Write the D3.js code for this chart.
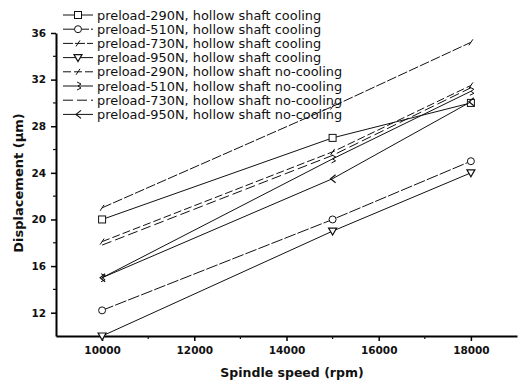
<!DOCTYPE html>
<html>
<head>
<meta charset="utf-8">
<script src="https://cdn.jsdelivr.net/npm/d3@7"></script>
<style>
  body { margin: 0; background: #fff; }
  text { font-family: "DejaVu Sans", "Liberation Sans", sans-serif; fill: #111; }
</style>
</head>
<body>
<div id="chart"></div>
<script>
// spindle speeds (rpm)
const speeds = [10000, 15000, 18000];

// displacement (um) per series
const seriesNames = [
  "preload-290N, hollow shaft cooling",
  "preload-510N, hollow shaft cooling",
  "preload-730N, hollow shaft cooling",
  "preload-950N, hollow shaft cooling",
  "preload-290N, hollow shaft no-cooling",
  "preload-510N, hollow shaft no-cooling",
  "preload-730N, hollow shaft no-cooling",
  "preload-950N, hollow shaft no-cooling"
];
const cool290 = [20, 27, 30];
const cool510 = [12.2, 20, 25];
const cool730 = [21, 29.7, 35.2];
const cool950 = [10, 19, 24];
const noCool290 = [18.1, 25.8, 31.5];
const noCool510 = [15, 25.2, 31];
const noCool730 = [17.8, 25.5, 31.3];
const noCool950 = [15, 23.5, 30.1];

const xTicks = [10000, 12000, 14000, 16000, 18000];
const yTicks = [12, 16, 20, 24, 28, 32, 36];

const seriesValues = [cool290, cool510, cool730, cool950, noCool290, noCool510, noCool730, noCool950];
const markerKinds = ["square", "circle", "slash", "tridown", "slash", "ltri", "none", "less"];
const dashes = [null, "12,2", "10,2", null, "8,3", null, "10,4", null];

const W = 525, H = 383;
const svg = d3.select("#chart").append("svg").attr("width", W).attr("height", H);

const x = d3.scaleLinear().domain([9000, 19000]).range([56, 517]);
const y = d3.scaleLinear().domain([10, 36]).range([336, 33]);

// axes
const xAxis = svg.append("g").attr("transform", "translate(0," + y(10) + ")")
  .call(d3.axisBottom(x).tickValues(xTicks).tickFormat(d3.format("d")).tickSize(5).tickSizeOuter(0).tickPadding(6));
xAxis.select(".domain").attr("stroke-width", 2);
xAxis.selectAll(".tick line").attr("stroke-width", 1.5);
xAxis.selectAll("text").attr("font-size", 10.5).attr("font-weight", "bold");
xAxis.append("g").selectAll("line").data([11000, 13000, 15000, 17000]).join("line")
  .attr("x1", d => x(d)).attr("x2", d => x(d)).attr("y1", 0).attr("y2", 3)
  .attr("stroke", "#111").attr("stroke-width", 1.2);

const yAxis = svg.append("g").attr("transform", "translate(" + x(9000) + ",0)")
  .call(d3.axisLeft(y).tickValues(yTicks).tickSize(5).tickSizeOuter(0).tickPadding(5));
yAxis.select(".domain").attr("stroke-width", 2);
yAxis.selectAll(".tick line").attr("stroke-width", 1.5);
yAxis.selectAll("text").attr("font-size", 10.5).attr("font-weight", "bold");
yAxis.append("g").selectAll("line").data([14, 18, 22, 26, 30, 34]).join("line")
  .attr("x1", 0).attr("x2", -3).attr("y1", d => y(d)).attr("y2", d => y(d))
  .attr("stroke", "#111").attr("stroke-width", 1.2);

// axis titles
svg.append("text").attr("x", 292).attr("y", 377)
  .attr("text-anchor", "middle").attr("font-size", 12.5).attr("font-weight", "bold")
  .text("Spindle speed (rpm)");
svg.append("text").attr("transform", "translate(23," + 183 + ") rotate(-90)")
  .attr("text-anchor", "middle").attr("font-size", 13).attr("font-weight", "bold")
  .text("Displacement (\u03bcm)");

// marker drawer
function drawMarker(g, kind, cx, cy) {
  const s = 3.5;
  if (kind === "square") {
    g.append("rect").attr("x", cx - s).attr("y", cy - s).attr("width", 2 * s).attr("height", 2 * s)
      .attr("fill", "#fff").attr("stroke", "#111").attr("stroke-width", 1);
  } else if (kind === "circle") {
    g.append("circle").attr("cx", cx).attr("cy", cy).attr("r", s)
      .attr("fill", "#fff").attr("stroke", "#111").attr("stroke-width", 1);
  } else if (kind === "tridown") {
    g.append("path").attr("d", `M${cx - 4},${cy - 3}L${cx + 4},${cy - 3}L${cx},${cy + 4}Z`)
      .attr("fill", "#fff").attr("stroke", "#111").attr("stroke-width", 1.2);
  } else if (kind === "slash") {
    g.append("path").attr("d", `M${cx - 2},${cy + 3}L${cx + 2},${cy - 3}`)
      .attr("fill", "none").attr("stroke", "#111").attr("stroke-width", 1);
  } else if (kind === "ltri") {
    g.append("path").attr("d", `M${cx - 1},${cy - 4}L${cx + 3},${cy - 2}L${cx},${cy}L${cx + 3},${cy + 2}L${cx - 1},${cy + 4}`)
      .attr("fill", "none").attr("stroke", "#111").attr("stroke-width", 1);
  } else if (kind === "less") {
    g.append("path").attr("d", `M${cx + 3},${cy - 4}L${cx - 2},${cy}L${cx + 3},${cy + 4}`)
      .attr("fill", "none").attr("stroke", "#111").attr("stroke-width", 1.2);
  }
}

const line = d3.line().x(d => x(d[0])).y(d => y(d[1]));

// series
seriesValues.forEach((vals, i) => {
  const pts = speeds.map((s, j) => [s, vals[j]]);
  const g = svg.append("g");
  g.append("path").attr("d", line(pts)).attr("fill", "none")
    .attr("stroke", "#111").attr("stroke-width", 1)
    .attr("stroke-dasharray", dashes[i]);
  pts.forEach(p => drawMarker(g, markerKinds[i], x(p[0]), y(p[1])));
});

// legend
const legend = svg.append("g");
seriesNames.forEach((name, i) => {
  const ly = 15 + i * 14.2;
  legend.append("line").attr("x1", 63).attr("x2", 93).attr("y1", ly).attr("y2", ly)
    .attr("stroke", "#111").attr("stroke-width", 1).attr("stroke-dasharray", dashes[i]);
  drawMarker(legend, markerKinds[i], 78, ly);
  legend.append("text").attr("x", 97).attr("y", ly + 4.5).attr("font-size", 12.9)
    .text(name);
});
</script>
</body>
</html>
